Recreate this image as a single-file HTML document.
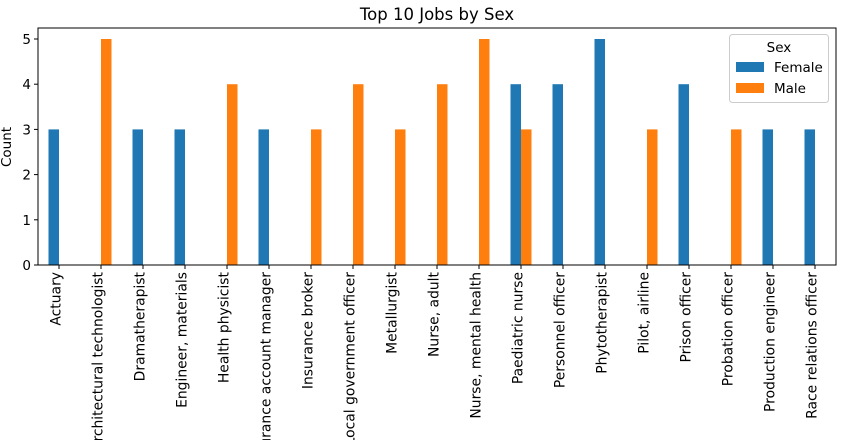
<!DOCTYPE html>
<html><head><meta charset="utf-8"><style>
body{margin:0;background:#fff;overflow:hidden}
svg{font-family:"DejaVu Sans","Liberation Sans",sans-serif;display:block}
</style></head><body>
<svg id="c" width="847" height="440"></svg>
<script>
const categories=["Actuary","Architectural technologist","Dramatherapist","Engineer, materials","Health physicist","Insurance account manager","Insurance broker","Local government officer","Metallurgist","Nurse, adult","Nurse, mental health","Paediatric nurse","Personnel officer","Phytotherapist","Pilot, airline","Prison officer","Probation officer","Production engineer","Race relations officer"];
const femaleValues=[3,0,3,3,0,3,0,0,0,0,0,4,4,5,0,4,0,3,3];
const maleValues=[0,5,0,0,4,0,3,4,3,4,5,3,0,0,3,0,3,0,0];
const yTicks=[0,1,2,3,4,5];
const NS="http://www.w3.org/2000/svg";
const svg=document.getElementById('c');
const L=38,R=836,T=28,B=265,Y0=265,Y5=39;
const y=v=>Y0-(Y0-Y5)*v/5;
const step=(R-L)/categories.length;
const xc=i=>L+step*(i+0.5);
const bw=step*0.25;
function el(tag,attrs,txt){const e=document.createElementNS(NS,tag);for(const k in attrs)e.setAttribute(k,attrs[k]);if(txt!==undefined)e.textContent=txt;svg.appendChild(e);return e;}
let t=el('text',{x:437,y:20,'font-size':16.5,'text-anchor':'middle',fill:'#000'},'Top 10 Jobs by Sex');


t=el('text',{transform:'translate(11,147) rotate(-90)','font-size':13.5,'text-anchor':'middle'},'Count');


categories.forEach((c,i)=>{
  if(femaleValues[i]>0){const b=el('rect',{x:xc(i)-bw,y:y(femaleValues[i]),width:bw,height:y(0)-y(femaleValues[i]),fill:'#1f77b4'});
    
    }
  if(maleValues[i]>0){const b=el('rect',{x:xc(i),y:y(maleValues[i]),width:bw,height:y(0)-y(maleValues[i]),fill:'#ff7f0e'});
    
    }
  el('line',{x1:xc(i),x2:xc(i),y1:B,y2:B+4,stroke:'#000'});
  const lb=el('text',{transform:`translate(${xc(i)+1.5},${B+7}) rotate(-90)`,'font-size':13.9,'text-anchor':'end'},c);
  
  
});
yTicks.forEach(v=>{
  el('line',{x1:L-4,x2:L,y1:y(v),y2:y(v),stroke:'#000'});
  const lb=el('text',{x:L-7,y:y(v)+5,'font-size':13.5,'text-anchor':'end'},v);
  
  
});
const fr=el('rect',{x:L,y:T,width:R-L,height:B-T,fill:'none',stroke:'#000','stroke-width':1});


const g=el('rect',{x:729.5,y:34.5,width:99,height:68,rx:3,fill:'#fff',stroke:'#ccc'});


el('text',{x:779,y:52,'font-size':13.5,'text-anchor':'middle'},'Sex');
el('rect',{x:736,y:62,width:28,height:10,fill:'#1f77b4'});
t=el('text',{x:774,y:72,'font-size':13.5},'Female');


el('rect',{x:736,y:83,width:28,height:10,fill:'#ff7f0e'});
t=el('text',{x:774,y:93,'font-size':13.5},'Male');


</script>
</body></html>
